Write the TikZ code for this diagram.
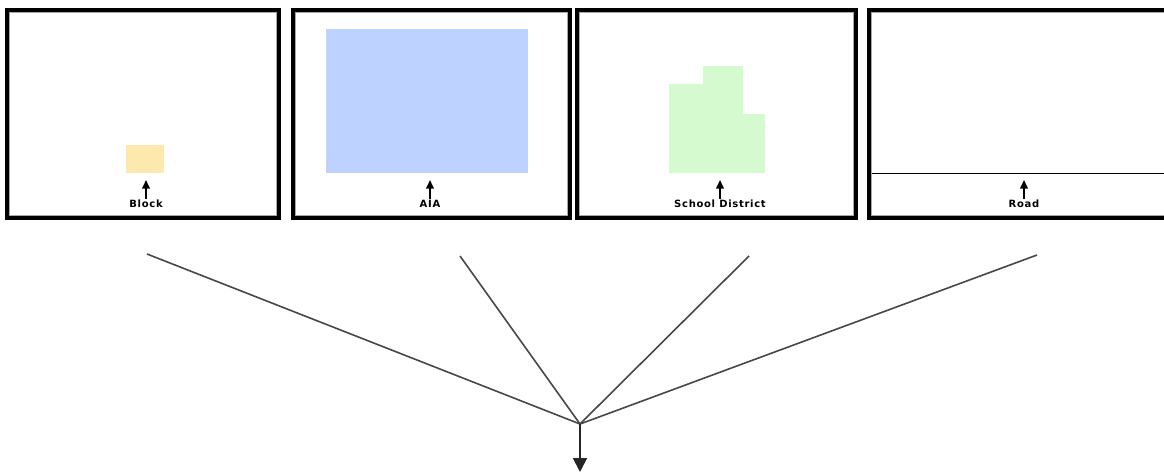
\documentclass[tikz,border=0pt]{standalone}
\usepackage{fontspec}
\setsansfont{DejaVu Sans}
\usetikzlibrary{arrows.meta}
\definecolor{blockfill}{HTML}{FDE8AE}
\definecolor{aiafill}{HTML}{BED2FF}
\definecolor{schoolfill}{HTML}{D5FAD0}
\tikzset{>=stealth,x=1pt,y=-1pt,
  panel/.style={draw=black,line width=4.2pt,minimum height=208pt,inner sep=0pt},
  rim/.style={draw=gray!70,line width=1.2pt},
  maplabel/.style={font=\sffamily\bfseries\fontsize{10}{12}\selectfont\addfontfeature{LetterSpace=7},inner sep=0pt},
  uparrow/.style={line width=1.9pt,-{Triangle[width=7.5pt,length=8.5pt]}},
  fanline/.style={draw=black!72,line width=1.6pt}}

\begin{document}
\begin{tikzpicture}

  \useasboundingbox (0,0) rectangle (1164,472);
  \clip (0,0) rectangle (1164,472);

  % map panels
  \foreach \n/\cx/\w in {block/143/272,aia/431.5/277,school/716.5/279,road/1029/320} {
    \node [panel,minimum width=\w pt] (\n panel) at (\cx,114) {};
    \draw [rim] ([xshift=4.6pt,yshift=-4.6pt]\n panel.north west) rectangle ([xshift=-4.6pt,yshift=4.6pt]\n panel.south east);
  }

  % map features
  \fill [blockfill] (126,145) rectangle (164,173);
  \fill [aiafill] (326,29) rectangle (528,173);
  \fill [schoolfill] (669,173) -- (669,84) -- (703,84) -- (703,66) -- (743,66) -- (743,114) -- (765,114) -- (765,173) -- cycle;
  \draw [thin,black] (872,173) -- (1164,173);

  % labels with their arrows
  \foreach \n/\cx/\t in {block/146/Block,aia/430/AIA,school/720/School District,road/1024/Road} {
    \node [maplabel] (\n label) at (\cx,204) {\t};
    \coordinate (\n tip) at (\cx,180);
    \draw [uparrow] (\n label.north) ++(0,-1) -- (\n tip);
  }

  % fan of lines into the hub
  \coordinate (hub) at (580,424);
  \coordinate (blockend) at (147,254);
  \coordinate (aiaend) at (460,256);
  \coordinate (schoolend) at (749,256);
  \coordinate (roadend) at (1037,255);
  \coordinate (out) at (580,472);

  \draw [fanline] (blockend) -- (hub);
  \draw [fanline] (aiaend) -- (hub);
  \draw [fanline] (schoolend) -- (hub);
  \draw [fanline] (roadend) -- (hub);

  \draw [line width=1.8pt,draw=black!85,-{Triangle[width=14pt,length=14pt]}] (hub) -- (out);

\end{tikzpicture}
\end{document}
